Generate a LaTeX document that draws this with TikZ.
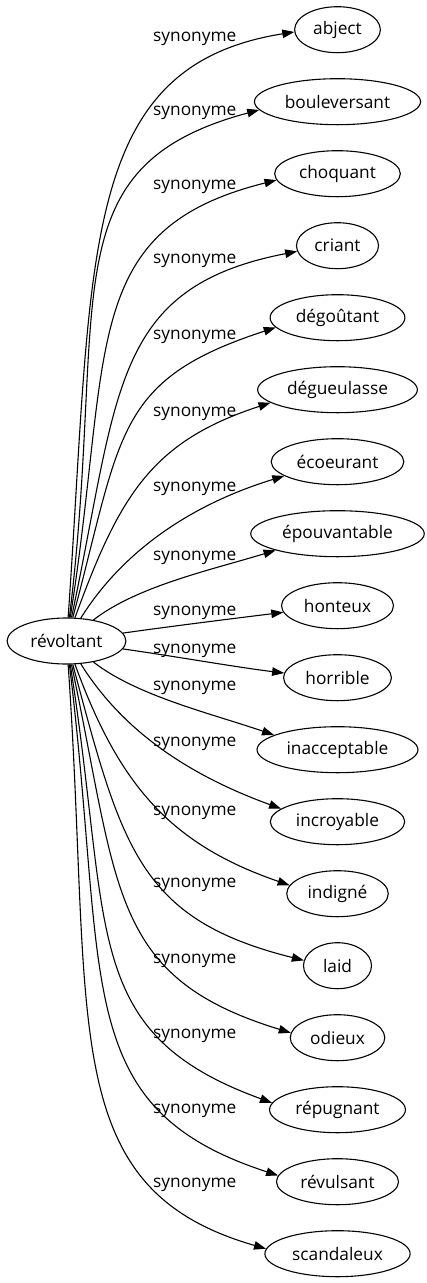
\documentclass[tikz,border=0pt]{standalone}
\usepackage{fontspec}
\setmainfont{Open Sans}
\usetikzlibrary{arrows.meta}
\usetikzlibrary{shapes.geometric}

\tikzset{
  mot/.style={draw, ellipse, line width=1.1pt, inner xsep=6pt, inner ysep=2pt,
    minimum width=68pt, minimum height=46pt},
  lien/.style={-{Triangle[length=12pt,width=8.5pt]}, line width=1.1pt},
  etiq/.style={anchor=base west, inner sep=0pt}
}

\begin{document}
\begin{tikzpicture}[x=1pt, y=1pt, font=\fontsize{17.3}{20}\selectfont]
  \useasboundingbox (0, 0) rectangle (427, -1283);

  \node[mot] (rev) at (66.5, -641) {révoltant};

  % les synonymes, un tous les 72
  \foreach \n/\m [count=\k from 0] in {abject/abject, bouleversant/bouleversant,
      choquant/choquant, criant/criant, degoutant/dégoûtant, degueulasse/dégueulasse,
      ecoeurant/écoeurant, epouvantable/épouvantable, honteux/honteux,
      horrible/horrible, inacceptable/inacceptable, incroyable/incroyable,
      indigne/indigné, laid/laid, odieux/odieux, repugnant/répugnant,
      revulsant/révulsant, scandaleux/scandaleux}
    \node[mot] (\n) at (337.5, {-29.7-72*\k}) {\m};

  \foreach \b [count=\i] in {41, 115, 189, 263, 339, 416, 491, 560, 615,
      653, 690, 746, 815, 887, 963, 1038, 1113, 1187}
    \node[etiq] (syn\i) at (153, -\b) {synonyme};

  % depart / distance / arrivee / distance / point d'arrivee
  \foreach \n/\a/\da/\b/\db/\e in {abject/86/360/189/220/183,
      bouleversant/83/320/195/220/186, choquant/81/270/194/205/186,
      criant/78/230/191/190/188, degoutant/75/190/198/170/189,
      degueulasse/70/130/198/125/191, ecoeurant/58/85/197/90/195,
      epouvantable/38/55/197/65/195, honteux/8/50/187/50/187,
      horrible/-8/50/173/50/175, inacceptable/-38/55/161/65/167,
      incroyable/-58/85/160/90/167, indigne/-70/130/161/125/170,
      laid/-75/190/166/170/171, odieux/-78/230/163/190/174,
      repugnant/-81/270/160/205/174, revulsant/-83/320/162/220/174,
      scandaleux/-86/360/164/220/176}
    \draw[lien] (rev.\a) to[out=\a, in=\b, out distance=\da pt, in distance=\db pt] (\n.\e);
\end{tikzpicture}
\end{document}
